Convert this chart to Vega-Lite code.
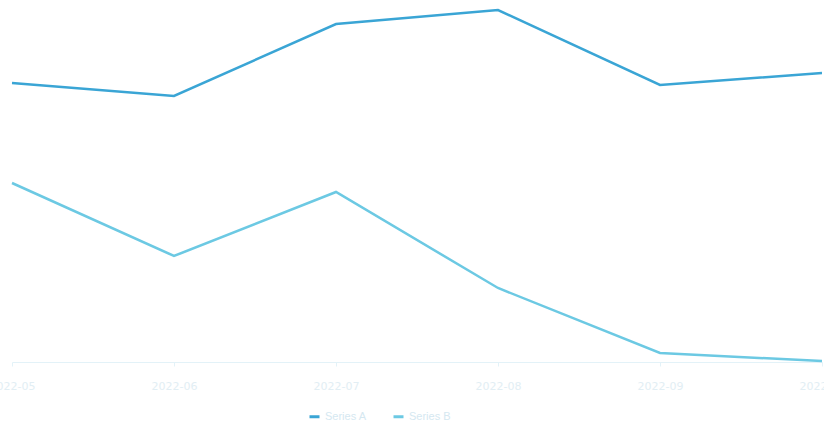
{
  "$schema": "https://vega.github.io/schema/vega-lite/v6.json",
  "width": 824,
  "height": 362,
  "autosize": {"type": "none"},
  "padding": {"top": 0, "left": 0, "right": 0, "bottom": 62},
  "background": "white",
  "data": {
    "values": [
      {"month": "2022-05", "series": "Series A", "value": 279},
      {"month": "2022-06", "series": "Series A", "value": 266},
      {"month": "2022-07", "series": "Series A", "value": 338},
      {"month": "2022-08", "series": "Series A", "value": 352},
      {"month": "2022-09", "series": "Series A", "value": 277},
      {"month": "2022-10", "series": "Series A", "value": 289},
      {"month": "2022-05", "series": "Series B", "value": 179},
      {"month": "2022-06", "series": "Series B", "value": 106},
      {"month": "2022-07", "series": "Series B", "value": 170},
      {"month": "2022-08", "series": "Series B", "value": 74},
      {"month": "2022-09", "series": "Series B", "value": 9},
      {"month": "2022-10", "series": "Series B", "value": 1}
    ]
  },
  "mark": {"type": "line", "strokeWidth": 2.5, "strokeJoin": "miter"},
  "encoding": {
    "x": {
      "field": "month",
      "type": "ordinal",
      "scale": {"type": "point", "range": [12, 822], "padding": 0},
      "axis": {
        "title": null,
        "labelAngle": 0,
        "labelColor": "#e2eef4",
        "labelFontSize": 11,
        "labelFont": "DejaVu Sans",
        "labelPadding": 14,
        "domainColor": "#e3f2f8",
        "tickColor": "#e3f2f8",
        "tickSize": 4,
        "grid": false
      }
    },
    "y": {
      "field": "value",
      "type": "quantitative",
      "scale": {"domain": [0, 362], "nice": false},
      "axis": null
    },
    "color": {
      "field": "series",
      "type": "nominal",
      "scale": {"domain": ["Series A", "Series B"], "range": ["#3aa5d5", "#6cc9e3"]},
      "legend": {
        "orient": "none",
        "legendX": 308,
        "legendY": 410,
        "direction": "horizontal",
        "title": null,
        "symbolType": "stroke",
        "symbolStrokeWidth": 3,
        "labelColor": "#d5e8f1",
        "labelFontSize": 11,
        "columnPadding": 20
      }
    }
  },
  "config": {"view": {"stroke": null}}
}
